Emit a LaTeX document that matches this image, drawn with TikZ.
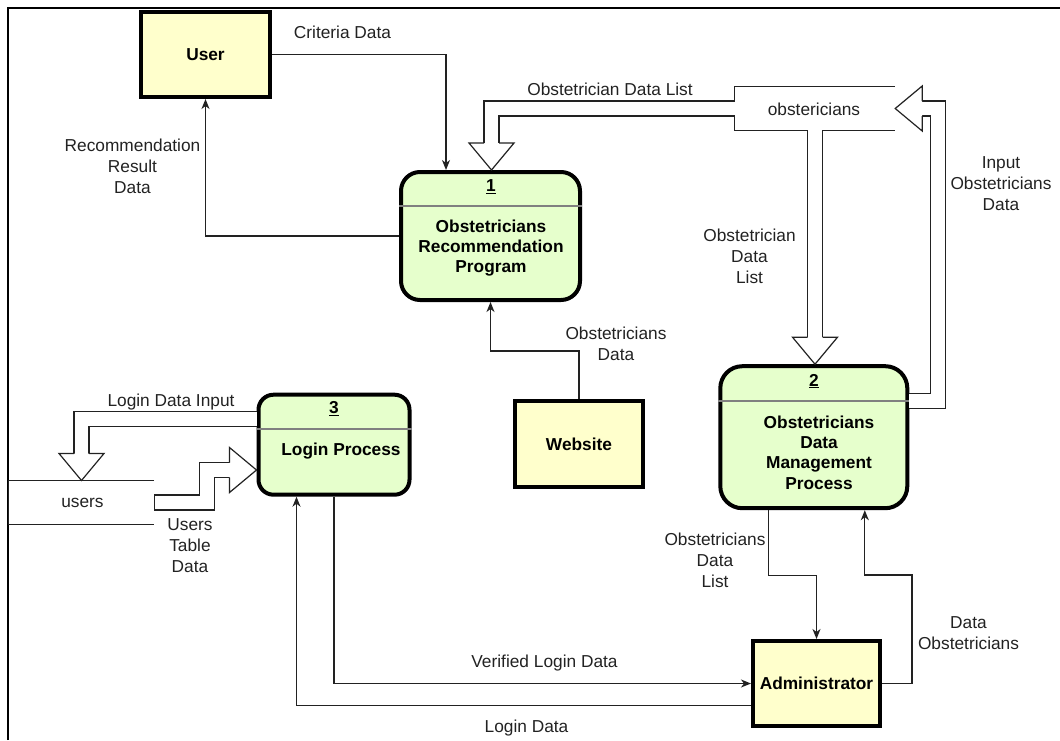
\documentclass[tikz,border=0pt]{standalone}
\usepackage{fontspec}
\setmainfont{Liberation Sans}
\usetikzlibrary{arrows.meta,calc}
\definecolor{yel}{HTML}{FFFFCC}
\definecolor{grn}{HTML}{E6FFCC}
\definecolor{ink}{HTML}{222222}
\definecolor{divg}{HTML}{808080}
\newcommand\flexhead[2]{%
  \fill[white,shift={(#1)},rotate=#2] (-27,-22.5) -- (0,0) -- (-27,22.5) -- cycle;
  \draw[flexline,shift={(#1)},rotate=#2] (-27,-7.5) -- (-27,-22.5) -- (0,0) -- (-27,22.5) -- (-27,7.5);}
\begin{document}
\begin{tikzpicture}[x=1pt,y=-1pt,
  lab/.style={font=\fontsize{17.3}{21}\selectfont, text=ink, align=center, inner sep=0},
  btxt/.style={font=\fontsize{17.3}{20.3}\selectfont\bfseries, align=center, inner sep=0},
  ext/.style={draw=black, line width=4pt, fill=yel, inner sep=0, font=\fontsize{17.3}{20.3}\selectfont\bfseries},
  proc/.style={draw=black, line width=4pt, fill=grn, inner sep=0},
  flow/.style={draw=ink, line width=1.2pt, -{Stealth[length=10pt,width=8pt,inset=3pt]}},
  flexline/.style={draw=ink, line width=1.2pt, line join=miter},
  flexshaft/.style={draw=ink, line width=1.2pt, double=white, double distance=13.8pt},
  dsline/.style={draw=ink, line width=1.2pt},
  divider/.style={draw=divg, line width=2pt}]
\useasboundingbox (0,0) rectangle (1060,740);
\draw[line width=2pt] (8,740) -- (8,8) -- (1060,8);

% nodes
\node[ext, minimum width=129pt, minimum height=85pt] (u) at (205.5,54.5) {User};
\node[proc, minimum width=179pt, minimum height=128pt, rounded corners=19pt] (p1) at (490.5,236) {};
\node[proc, minimum width=187pt, minimum height=142pt, rounded corners=22pt] (p2) at (813.8,437.2) {};
\node[proc, minimum width=151pt, minimum height=100pt, rounded corners=15pt] (p3) at (334,444.7) {};
\node[ext, minimum width=128pt, minimum height=86pt] (w) at (579,444) {Website};
\node[ext, minimum width=127pt, minimum height=85pt] (a) at (816.5,683.5) {Administrator};
\node[minimum width=160pt, minimum height=43pt, inner sep=0] (ds1) at (815,108.5) {};
\node[minimum width=145pt, minimum height=43.6pt, inner sep=0] (ds2) at (81.5,502.5) {};

% dividers
\draw[divider] (p1.west |- 0,206) -- (p1.east |- 0,206);
\draw[divider] (p2.west |- 0,401) -- (p2.east |- 0,401);
\draw[divider] (p3.west |- 0,429.3) -- (p3.east |- 0,429.3);

% process texts
\node[btxt] (p1n) at (491,187) {\underline{1}};
\node[btxt] (p1t) at (491,248) {Obstetricians\\Recommendation\\Program};
\node[btxt] (p2n) at (814,381) {\underline{2}};
\node[btxt] (p2t) at (819,452.5) {Obstetricians\\Data\\Management\\Process};
\node[btxt] (p3n) at (334,409) {\underline{3}};
\node[btxt] (p3t) at (341,451) {Login Process};

% data stores
\draw[dsline] (ds1.north east) -- (ds1.north west) -- (ds1.south west) -- (ds1.south east);
\draw[dsline] (ds2.north east) -- (ds2.north west) -- (ds2.south west) -- (ds2.south east);
\node[lab] (ds1t) at (814,109) {obstericians};
\node[lab] (ds2t) at (82.5,503) {users};

% flex arrows
\coordinate (t1) at ($(p1.north)+(1,0)$);
\draw[flexshaft] (ds1.west) -| ($(t1)+(0,-27)$);
\flexhead{t1}{-90}

\coordinate (t2) at (p2.north -| ds1.south);
\draw[flexshaft] (ds1.south) -- ($(t2)+(0,-27)$);
\flexhead{t2}{-90}

\coordinate (t3) at (ds1.east);
\draw[flexshaft] (p2.east |- 0,401) -| ($(t3)+(43,0)$) -- ($(t3)+(27,0)$);
\flexhead{t3}{180}

\coordinate (t4) at (ds2.north);
\draw[flexshaft] (p3.west |- 0,419) -| ($(t4)+(0,-27)$);
\flexhead{t4}{-90}

\coordinate (t5) at (p3.west |- 0,470);
\draw[flexshaft] (ds2.east) -- ++(52.5,0) |- ($(t5)+(-27,0)$);
\flexhead{t5}{0}
\draw[flexline] ([yshift=7.5pt]ds2.east) -- ([yshift=-7.5pt]ds2.east);

% plain flows
\draw[flow] (u.east) -| ([xshift=-44.5pt]p1.north);
\draw[flow] (p1.west) -| (u.south);
\draw[flow] (w.north) -- ++(0,-48) -| (p1.south);
\draw[flow] ([xshift=-45pt]p2.south) -- ++(0,65) -| (a.north);
\draw[flow] (a.east) -- ++(30,0) -- ++(0,-108.5) -| ([xshift=51pt]p2.south);
\draw[flow] (p3.south) |- (a.west);
\draw[flow] ([yshift=-22pt]a.west) -| ([xshift=-37.5pt]p3.south);

% labels
\node[lab] (l1) at (342.5,32) {Criteria Data};
\node[lab] (l2) at (132.5,166) {Recommendation\\Result\\Data};
\node[lab] (l3) at (610,89) {Obstetrician Data List};
\node[lab] (l4) at (1001,184) {Input\\Obstetricians\\Data};
\node[lab] (l5) at (749.5,256) {Obstetrician\\Data\\List};
\node[lab] (l6) at (616,343.5) {Obstetricians\\Data};
\node[lab] (l7) at (171,402) {Login Data Input};
\node[lab] (l8) at (190,546) {Users\\Table\\Data};
\node[lab] (l9) at (715,560) {Obstetricians\\Data\\List};
\node[lab] (l10) at (968.5,633) {Data\\Obstetricians};
\node[lab] (l11) at (544.5,663) {Verified Login Data};
\node[lab] (l12) at (526.5,728) {Login Data};
\end{tikzpicture}
\end{document}
